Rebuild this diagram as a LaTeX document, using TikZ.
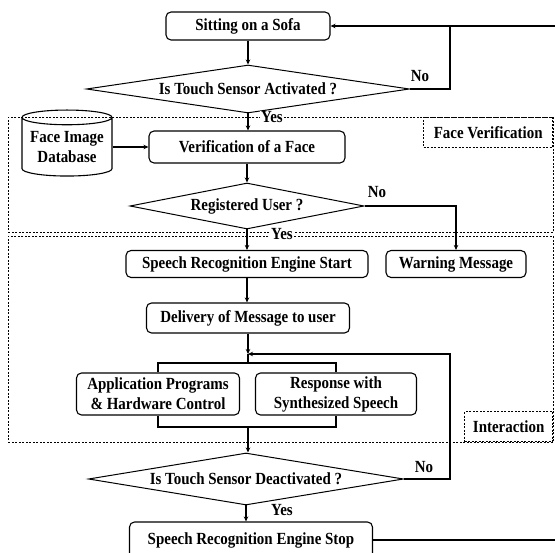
\documentclass[tikz,border=0pt]{standalone}
\usepackage{fontspec}
\setmainfont[FakeStretch=0.88]{Liberation Serif}
\usetikzlibrary{shapes.geometric,arrows.meta}
\begin{document}
\begin{tikzpicture}[x=1pt,y=-1pt,
  font=\fontsize{17}{20}\selectfont\bfseries,
  box/.style={draw,rounded corners=5pt,line width=1.1pt,inner sep=0pt,align=center},
  dec/.style={draw,diamond,aspect=6.7,inner sep=0pt,line width=1pt},
  flow/.style={line width=1.5pt,-{Stealth[length=5pt,width=4.5pt]}},
  link/.style={line width=1.5pt},
  region/.style={draw,line width=0.6pt,dash pattern=on 2pt off 1.5pt,inner sep=0pt},
  lbl/.style={inner sep=0pt}]
\useasboundingbox (0,0) rectangle (555,553);
\fill[white] (0,0) rectangle (555,553);
% regions
\node[region,anchor=north west,minimum width=545pt,minimum height=115pt] (fvreg) at (8,117) {};
\node[region,anchor=north west,minimum width=545pt,minimum height=206pt] (intreg) at (8,236) {};
\node[region,anchor=north east,minimum width=129pt,minimum height=30pt] (fvlab) at (553,117) {Face Verification};
\node[region,anchor=south east,minimum width=88pt,minimum height=30pt] (intlab) at (553,442) {Interaction};
% nodes
\node[box,minimum width=164pt,minimum height=28pt] (sofa) at (248,26) {Sitting on a Sofa};
\node[dec,minimum width=323pt,minimum height=48pt] (d1) at (248,89) {Is Touch Sensor Activated ?};
\node[draw,cylinder,shape border rotate=90,aspect=0.2,minimum width=90pt,minimum height=66pt,line width=1.1pt,align=center,inner sep=0pt] (db) at (67,147) {Face Image\\Database};
\node[box,minimum width=196pt,minimum height=32pt] (ver) at (247,147) {Verification of a Face};
\node[dec,minimum width=234pt,minimum height=46pt] (d2) at (247,206) {Registered User ?};
\node[box,minimum width=242pt,minimum height=27pt] (sres) at (247,264) {Speech Recognition Engine Start};
\node[box,minimum width=140pt,minimum height=27pt] (warn) at (456,264) {Warning Message};
\node[box,minimum width=203pt,minimum height=30pt] (deliv) at (248,318) {Delivery of Message to user};
\node[box,minimum width=163pt,minimum height=42pt] (app) at (158,394) {Application Programs\\\& Hardware Control};
\node[box,minimum width=161pt,minimum height=42pt] (resp) at (336,394) {Response with\\Synthesized Speech};
\node[dec,minimum width=315pt,minimum height=52pt] (d3) at (246,479) {Is Touch Sensor Deactivated ?};
\node[box,minimum width=243pt,minimum height=36pt] (stop) at (251,540) {Speech Recognition Engine Stop};
% coordinates
\coordinate (n1) at (450,26);
\coordinate (j) at (248,354);
\coordinate (bt) at (248,363);
\coordinate (bb) at (248,427);
\coordinate (fb) at (450,354);
\coordinate (far) at (562,540);
% connectors
\draw[flow] (sofa.south) -- (d1.north);
\draw[link] (d1.east) -| (n1);
\draw[flow] (d1.south) -- (d1.south |- ver.north);
\draw[flow] (db.east |- ver.west) -- (ver.west);
\draw[flow] (ver.south -| d2.north) -- (d2.north);
\draw[flow] (d2.east) -| (warn.north);
\draw[flow] (d2.south) -- (sres.north);
\draw[flow] (sres.south) -- (sres.south |- deliv.north);
\draw[flow] (deliv.south) -- (j);
\draw[link] (j) -- (bt);
\draw[link] (app.north) |- (bt) -| (resp.north);
\draw[link] (app.south) |- (bb) -| (resp.south);
\draw[flow] (bb) -- (bb |- d3.north);
\draw[flow] (d3.east) -| (fb) -- (j);
\draw[flow] (d3.south) -- (d3.south |- stop.north);
\draw[flow] (stop.east) -- (far) |- (sofa.east);
% labels
\node[lbl,fill=white,inner xsep=1pt] (yes1) at (272,117) {Yes};
\node[lbl] (no1) at (420,76) {No};
\node[lbl] (no2) at (377,192) {No};
\node[lbl,fill=white,inner xsep=1pt] (yes2) at (282,234) {Yes};
\node[lbl] (no3) at (424,467) {No};
\node[lbl] (yes3) at (282,510) {Yes};
\end{tikzpicture}
\end{document}
